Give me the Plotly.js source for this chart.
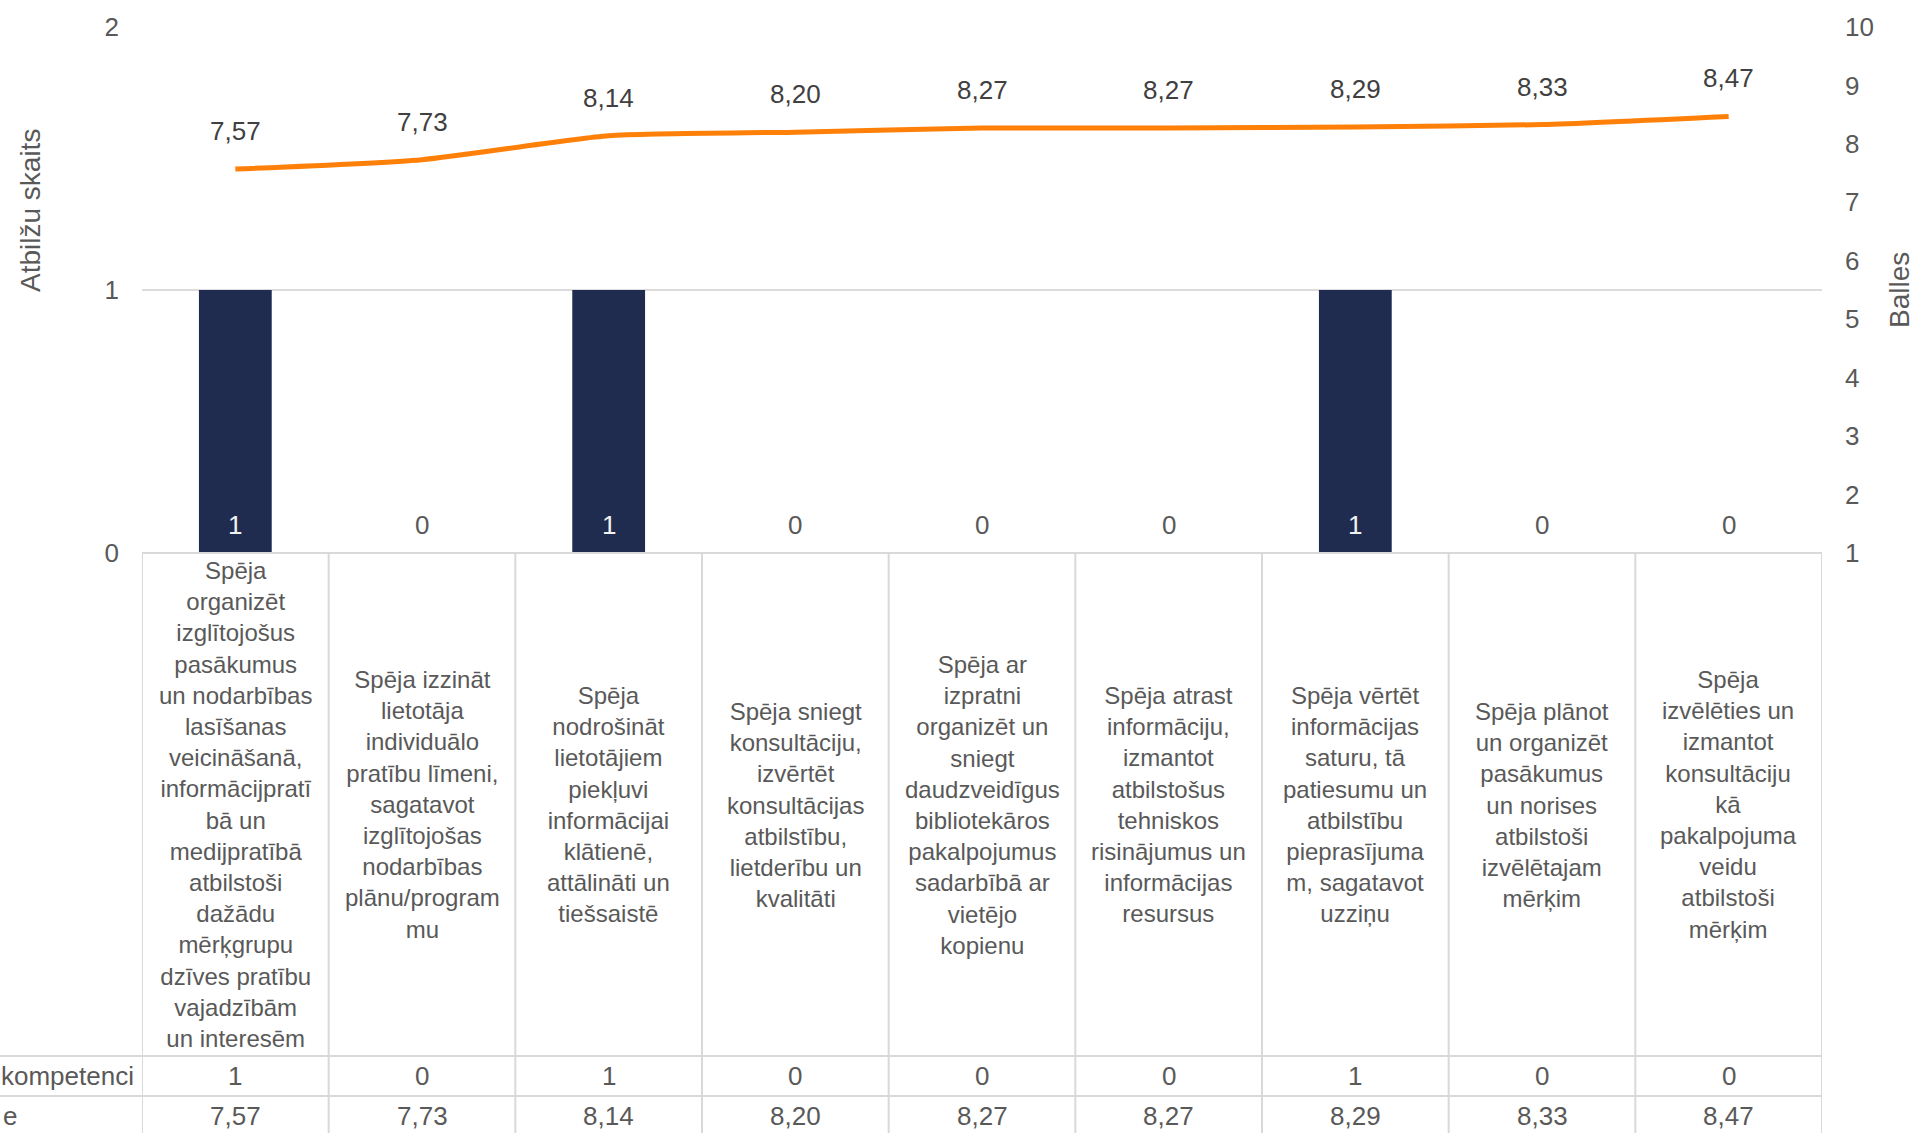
<!DOCTYPE html>
<html>
<head>
<meta charset="utf-8">
<script src="https://cdn.plot.ly/plotly-3.0.1.min.js"></script>
<style>html,body{margin:0;padding:0;background:#fff;}#chart{width:1919px;height:1133px;}</style>
</head>
<body>
<div id="chart"></div>
<script>
// ---- data ----
const categories = [
  "Spēja<br>organizēt<br>izglītojošus<br>pasākumus<br>un nodarbības<br>lasīšanas<br>veicināšanā,<br>informācijpratī<br>bā un<br>medijpratībā<br>atbilstoši<br>dažādu<br>mērķgrupu<br>dzīves pratību<br>vajadzībām<br>un interesēm",
  "Spēja izzināt<br>lietotāja<br>individuālo<br>pratību līmeni,<br>sagatavot<br>izglītojošas<br>nodarbības<br>plānu/program<br>mu",
  "Spēja<br>nodrošināt<br>lietotājiem<br>piekļuvi<br>informācijai<br>klātienē,<br>attālināti un<br>tiešsaistē",
  "Spēja sniegt<br>konsultāciju,<br>izvērtēt<br>konsultācijas<br>atbilstību,<br>lietderību un<br>kvalitāti",
  "Spēja ar<br>izpratni<br>organizēt un<br>sniegt<br>daudzveidīgus<br>bibliotekāros<br>pakalpojumus<br>sadarbībā ar<br>vietējo<br>kopienu",
  "Spēja atrast<br>informāciju,<br>izmantot<br>atbilstošus<br>tehniskos<br>risinājumus un<br>informācijas<br>resursus",
  "Spēja vērtēt<br>informācijas<br>saturu, tā<br>patiesumu un<br>atbilstību<br>pieprasījuma<br>m, sagatavot<br>uzziņu",
  "Spēja plānot<br>un organizēt<br>pasākumus<br>un norises<br>atbilstoši<br>izvēlētajam<br>mērķim",
  "Spēja<br>izvēlēties un<br>izmantot<br>konsultāciju<br>kā<br>pakalpojuma<br>veidu<br>atbilstoši<br>mērķim"
];
const answerCounts = [1, 0, 1, 0, 0, 0, 1, 0, 0];
const scores = [7.57, 7.73, 8.14, 8.20, 8.27, 8.27, 8.29, 8.33, 8.47];
const rowLabels = ["kompetenci", "e"];
const leftAxisTitle = "Atbilžu skaits";
const rightAxisTitle = "Balles";
const leftTicks = [0, 1, 2];
const rightTicks = [1, 2, 3, 4, 5, 6, 7, 8, 9, 10];

// ---- styling / geometry ----
const FONT = "Liberation Sans, Arial, sans-serif";
const GRAY = "#595959";
const DARK = "#404040";
const LINEC = "#d9d9d9";
const W = 1919, H = 1133;
const L = 142, R = 97, T = 27, B = 580;
const plotW = W - L - R, plotH = H - T - B;
const px2x = p => (p - L) / plotW;            // pixel -> paper x
const py2y = p => (H - B - p) / plotH;         // pixel -> paper y
const fmt = v => v.toFixed(2).replace(".", ",");
const idx = categories.map((_, i) => i);

const traces = [
  {
    type: "bar",
    x: idx,
    y: answerCounts,
    width: 0.39,
    marker: {color: "#1f2c4f"},
    hoverinfo: "skip",
    showlegend: false,
    yaxis: "y"
  },
  {
    type: "scatter",
    mode: "lines",
    x: idx,
    y: scores,
    line: {color: "#ff8008", width: 5, shape: "spline", smoothing: 0.6},
    hoverinfo: "skip",
    showlegend: false,
    yaxis: "y2"
  }
];

const annotations = [];
// line data labels
scores.forEach((v, i) => annotations.push({
  x: i, y: v, xref: "x", yref: "y2", text: fmt(v), showarrow: false,
  yanchor: "middle", yshift: 38, font: {family: FONT, size: 26, color: DARK}
}));
// bar data labels
answerCounts.forEach((v, i) => annotations.push({
  x: i, y: 0, xref: "x", yref: "y", text: String(v), showarrow: false,
  yanchor: "middle", yshift: 28,
  font: {family: FONT, size: 26, color: v > 0 ? "#f2f2f2" : GRAY}
}));
// category labels in data table
categories.forEach((c, i) => annotations.push({
  x: i, y: py2y(805), xref: "x", yref: "paper", text: c, showarrow: false,
  yanchor: "middle", xanchor: "center", align: "center",
  font: {family: FONT, size: 24, color: GRAY}
}));
// table value rows
answerCounts.forEach((v, i) => annotations.push({
  x: i, y: py2y(1076), xref: "x", yref: "paper", text: String(v), showarrow: false,
  yanchor: "middle", font: {family: FONT, size: 26, color: GRAY}
}));
scores.forEach((v, i) => annotations.push({
  x: i, y: py2y(1116), xref: "x", yref: "paper", text: fmt(v), showarrow: false,
  yanchor: "middle", font: {family: FONT, size: 26, color: GRAY}
}));
// row headers
annotations.push({x: px2x(136), y: py2y(1076), xref: "paper", yref: "paper", text: rowLabels[0],
  showarrow: false, xanchor: "right", yanchor: "middle", font: {family: FONT, size: 26, color: GRAY}});
annotations.push({x: px2x(19), y: py2y(1116), xref: "paper", yref: "paper", text: rowLabels[1],
  showarrow: false, xanchor: "right", yanchor: "middle", font: {family: FONT, size: 26, color: GRAY}});
// axis titles
annotations.push({x: px2x(30), y: py2y(211), xref: "paper", yref: "paper", text: leftAxisTitle,
  showarrow: false, textangle: -90, xanchor: "center", yanchor: "middle",
  font: {family: FONT, size: 28, color: GRAY}});
annotations.push({x: px2x(1899), y: py2y(290), xref: "paper", yref: "paper", text: rightAxisTitle,
  showarrow: false, textangle: -90, xanchor: "center", yanchor: "middle",
  font: {family: FONT, size: 28, color: GRAY}});

// data table grid
const shapes = [];
const lineStyle = {color: LINEC, width: 2};
shapes.push({type: "line", xref: "paper", yref: "paper", x0: 0, x1: 1, y0: 0, y1: 0, line: lineStyle});
shapes.push({type: "line", xref: "paper", yref: "paper", x0: px2x(0), x1: 1, y0: py2y(1056), y1: py2y(1056), line: lineStyle});
shapes.push({type: "line", xref: "paper", yref: "paper", x0: px2x(0), x1: 1, y0: py2y(1096), y1: py2y(1096), line: lineStyle});
for (let k = 0; k <= categories.length; k++) {
  shapes.push({type: "line", xref: "x", yref: "paper", x0: k - 0.5, x1: k - 0.5, y0: 0, y1: py2y(H + 5), line: lineStyle});
}

const layout = {
  width: W, height: H,
  margin: {l: L, r: R, t: T, b: B, pad: 0},
  paper_bgcolor: "#ffffff", plot_bgcolor: "#ffffff",
  showlegend: false,
  xaxis: {
    type: "linear", range: [-0.5, categories.length - 0.5],
    showticklabels: false, showgrid: false, zeroline: false, showline: false, ticks: ""
  },
  yaxis: {
    range: [0, 2], tickvals: leftTicks, ticktext: leftTicks.map(String),
    showgrid: true, gridcolor: "#dcdcdc", gridwidth: 2, zeroline: false, showline: false,
    ticks: "", ticklabelstandoff: 22,
    tickfont: {family: FONT, size: 26, color: GRAY}
  },
  yaxis2: {
    range: [1, 10], tickvals: rightTicks, ticktext: rightTicks.map(String),
    overlaying: "y", side: "right", showgrid: false, zeroline: false, showline: false,
    ticks: "", ticklabelstandoff: 22,
    tickfont: {family: FONT, size: 26, color: GRAY}
  },
  annotations: annotations,
  shapes: shapes
};

Plotly.newPlot("chart", traces, layout, {staticPlot: true, displayModeBar: false});
</script>
</body>
</html>
